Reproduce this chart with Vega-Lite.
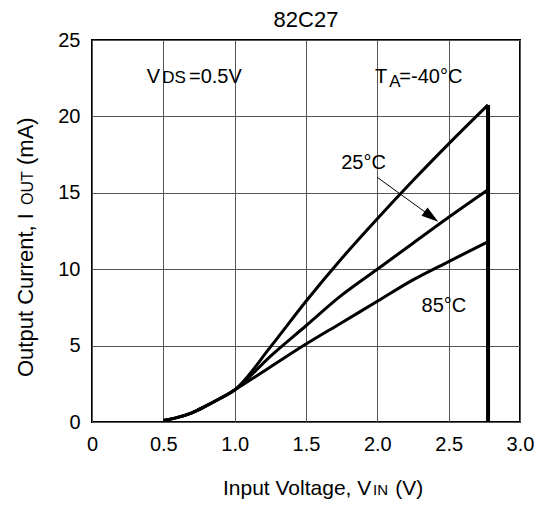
{
  "$schema": "https://vega.github.io/schema/vega-lite/v6.json",
  "autosize": {"type": "none"},
  "width": 428,
  "height": 382,
  "padding": {"left": 92, "top": 40, "right": 17, "bottom": 83},
  "background": "white",
  "title": {"text": "82C27", "font": "Liberation Sans", "fontSize": 22, "fontWeight": "normal", "color": "black", "offset": -2},
  "config": {
    "view": {"stroke": "black", "strokeWidth": 2},
    "axis": {
      "labelFont": "Liberation Sans", "labelFontSize": 20, "labelColor": "black",
      "domain": false, "ticks": false, "grid": true, "gridColor": "#555", "gridWidth": 1, "gridOpacity": 1,
      "labelFlush": false, "labelOverlap": false
    }
  },
  "datasets": {
    "curves": [
      {"v": 0.5, "i": 0.1, "t": "-40"}, {"v": 0.6, "i": 0.3, "t": "-40"}, {"v": 0.7, "i": 0.6, "t": "-40"}, {"v": 0.8, "i": 1.05, "t": "-40"}, {"v": 0.9, "i": 1.55, "t": "-40"}, {"v": 1.0, "i": 2.1, "t": "-40"},
      {"v": 1.25, "i": 4.9, "t": "-40"}, {"v": 1.5, "i": 7.9, "t": "-40"}, {"v": 1.75, "i": 10.7, "t": "-40"}, {"v": 2.0, "i": 13.3, "t": "-40"}, {"v": 2.25, "i": 15.8, "t": "-40"}, {"v": 2.5, "i": 18.2, "t": "-40"}, {"v": 2.776, "i": 20.75, "t": "-40"},
      {"v": 0.5, "i": 0.1, "t": "25"}, {"v": 0.6, "i": 0.3, "t": "25"}, {"v": 0.7, "i": 0.6, "t": "25"}, {"v": 0.8, "i": 1.05, "t": "25"}, {"v": 0.9, "i": 1.55, "t": "25"}, {"v": 1.0, "i": 2.1, "t": "25"},
      {"v": 1.25, "i": 4.3, "t": "25"}, {"v": 1.5, "i": 6.3, "t": "25"}, {"v": 1.75, "i": 8.3, "t": "25"}, {"v": 2.0, "i": 10.0, "t": "25"}, {"v": 2.25, "i": 11.7, "t": "25"}, {"v": 2.5, "i": 13.4, "t": "25"}, {"v": 2.776, "i": 15.2, "t": "25"},
      {"v": 0.5, "i": 0.1, "t": "85"}, {"v": 0.6, "i": 0.3, "t": "85"}, {"v": 0.7, "i": 0.6, "t": "85"}, {"v": 0.8, "i": 1.05, "t": "85"}, {"v": 0.9, "i": 1.55, "t": "85"}, {"v": 1.0, "i": 2.1, "t": "85"},
      {"v": 1.25, "i": 3.6, "t": "85"}, {"v": 1.5, "i": 5.1, "t": "85"}, {"v": 1.75, "i": 6.5, "t": "85"}, {"v": 2.0, "i": 7.9, "t": "85"}, {"v": 2.25, "i": 9.3, "t": "85"}, {"v": 2.5, "i": 10.5, "t": "85"}, {"v": 2.776, "i": 11.8, "t": "85"}
    ],
    "drop": [{"v": 2.776, "i": 0}, {"v": 2.776, "i": 20.75}],
    "arrow": [{"v": 2.0, "i": 16.01}, {"v": 2.379, "i": 13.44}],
    "head": [{"v": 2.379, "i": 13.44}],
    "bigText": [
      {"v": 0.383, "i": 22.2, "txt": "V"},
      {"v": 0.68, "i": 22.2, "txt": "=0.5V"},
      {"v": 1.984, "i": 22.2, "txt": "T"},
      {"v": 2.154, "i": 22.2, "txt": "=-40°C"}
    ],
    "smallText": [
      {"v": 0.492, "i": 22.2, "txt": "DS"},
      {"v": 2.084, "i": 21.94, "txt": "A"}
    ],
    "tempText": [
      {"v": 1.903, "i": 16.98, "txt": "25°C"},
      {"v": 2.467, "i": 7.56, "txt": "85°C"}
    ],
    "xTitleBig": [
      {"v": 0.918, "i": -4.78, "txt": "Input Voltage, V"},
      {"v": 2.125, "i": -4.78, "txt": "(V)"}
    ],
    "xTitleSmall": [
      {"v": 1.97, "i": -4.78, "txt": "IN"}
    ],
    "yTitleBig": [
      {"v": -0.4135, "i": 2.945, "txt": "Output Current, I"},
      {"v": -0.4135, "i": 16.82, "txt": "(mA)"}
    ],
    "yTitleSmall": [
      {"v": -0.4135, "i": 14.2, "txt": "OUT"}
    ]
  },
  "layer": [
    {
      "data": {"name": "curves"},
      "mark": {"type": "line", "color": "black", "strokeWidth": 3, "interpolate": "monotone"},
      "encoding": {
        "x": {"field": "v", "type": "quantitative", "scale": {"domain": [0, 3], "nice": false},
              "axis": {"values": [0, 0.5, 1, 1.5, 2, 2.5, 3], "labelExpr": "datum.value == 0 ? '0' : format(datum.value, '.1f')", "labelPadding": 12, "title": null}},
        "y": {"field": "i", "type": "quantitative", "scale": {"domain": [0, 25], "nice": false},
              "axis": {"values": [0, 5, 10, 15, 20, 25], "labelPadding": 12, "title": null}},
        "detail": {"field": "t"}
      }
    },
    {
      "data": {"name": "drop"},
      "mark": {"type": "line", "color": "black", "strokeWidth": 4},
      "encoding": {"x": {"field": "v", "type": "quantitative"}, "y": {"field": "i", "type": "quantitative"}}
    },
    {
      "data": {"name": "arrow"},
      "mark": {"type": "line", "color": "black", "strokeWidth": 1},
      "encoding": {"x": {"field": "v", "type": "quantitative"}, "y": {"field": "i", "type": "quantitative"}}
    },
    {
      "data": {"name": "head"},
      "mark": {"type": "point", "shape": "M-1,-0.6L1,0L-1,0.6Z", "filled": true, "color": "black", "opacity": 1, "size": 289, "angle": 36},
      "encoding": {"x": {"field": "v", "type": "quantitative"}, "y": {"field": "i", "type": "quantitative"}}
    },
    {
      "data": {"name": "bigText"},
      "mark": {"type": "text", "font": "Liberation Sans", "fontSize": 20, "align": "left", "baseline": "alphabetic", "color": "black"},
      "encoding": {"x": {"field": "v", "type": "quantitative"}, "y": {"field": "i", "type": "quantitative"}, "text": {"field": "txt"}}
    },
    {
      "data": {"name": "smallText"},
      "mark": {"type": "text", "font": "Liberation Sans", "fontSize": 17, "align": "left", "baseline": "alphabetic", "color": "black"},
      "encoding": {"x": {"field": "v", "type": "quantitative"}, "y": {"field": "i", "type": "quantitative"}, "text": {"field": "txt"}}
    },
    {
      "data": {"name": "tempText"},
      "mark": {"type": "text", "font": "Liberation Sans", "fontSize": 20, "align": "center", "baseline": "middle", "color": "black"},
      "encoding": {"x": {"field": "v", "type": "quantitative"}, "y": {"field": "i", "type": "quantitative"}, "text": {"field": "txt"}}
    },
    {
      "data": {"name": "xTitleBig"},
      "mark": {"type": "text", "font": "Liberation Sans", "fontSize": 21, "align": "left", "baseline": "alphabetic", "color": "black", "clip": false},
      "encoding": {"x": {"field": "v", "type": "quantitative"}, "y": {"field": "i", "type": "quantitative"}, "text": {"field": "txt"}}
    },
    {
      "data": {"name": "xTitleSmall"},
      "mark": {"type": "text", "font": "Liberation Sans", "fontSize": 15, "align": "left", "baseline": "alphabetic", "color": "black", "clip": false},
      "encoding": {"x": {"field": "v", "type": "quantitative"}, "y": {"field": "i", "type": "quantitative"}, "text": {"field": "txt"}}
    },
    {
      "data": {"name": "yTitleBig"},
      "mark": {"type": "text", "font": "Liberation Sans", "fontSize": 22, "align": "left", "baseline": "alphabetic", "angle": 270, "color": "black", "clip": false},
      "encoding": {"x": {"field": "v", "type": "quantitative"}, "y": {"field": "i", "type": "quantitative"}, "text": {"field": "txt"}}
    },
    {
      "data": {"name": "yTitleSmall"},
      "mark": {"type": "text", "font": "Liberation Sans", "fontSize": 16, "align": "left", "baseline": "alphabetic", "angle": 270, "color": "black", "clip": false},
      "encoding": {"x": {"field": "v", "type": "quantitative"}, "y": {"field": "i", "type": "quantitative"}, "text": {"field": "txt"}}
    }
  ]
}
